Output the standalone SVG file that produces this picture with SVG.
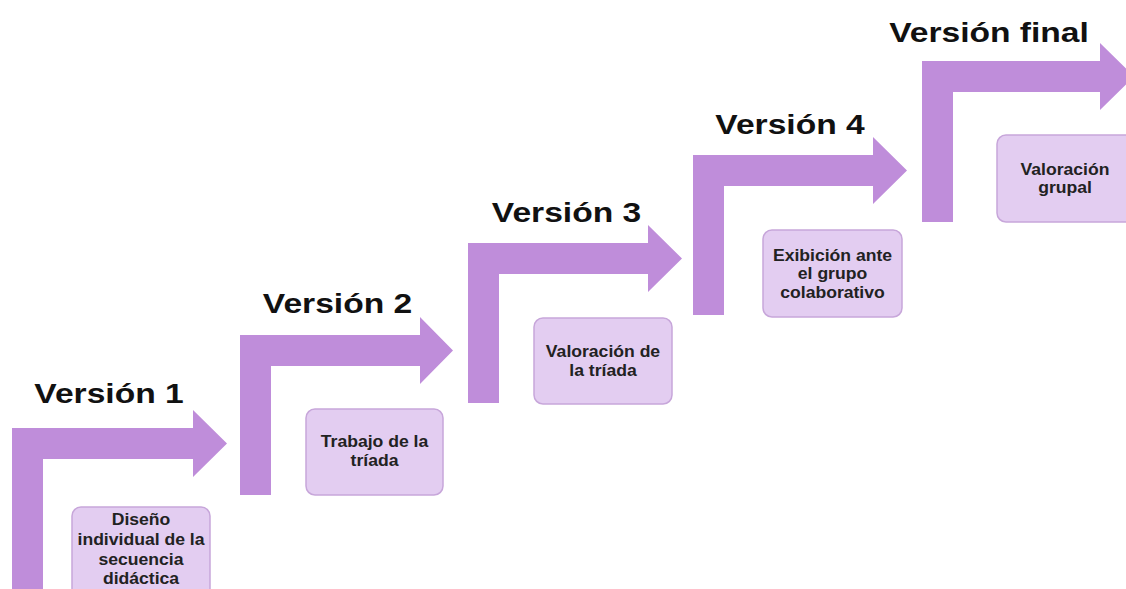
<svg xmlns="http://www.w3.org/2000/svg" width="1126" height="589" viewBox="0 0 1126 589">
<style>
.arrow{fill:#BF8DDA;stroke:none}
.box{fill:#E3CDF1;stroke:#C7A6DA;stroke-width:1.5}
.title{font-family:"Liberation Sans",Arial,sans-serif;font-weight:bold;font-size:28px;fill:#111;text-anchor:middle}
.lbl{font-family:"Liberation Sans",Arial,sans-serif;font-weight:bold;font-size:16px;fill:#222;text-anchor:middle}
</style>
<rect width="1126" height="589" fill="#fff"/>
<g id="connectors">
<polygon class="arrow" points="12,600 12,428 193,428 193,410 227,443.5 193,477 193,459 43,459 43,600"/>
<polygon class="arrow" points="240,495 240,335 420,335 420,317 453,350.5 420,384 420,366 271,366 271,495"/>
<polygon class="arrow" points="468,403 468,243 648,243 648,225 682,258.5 648,292 648,274 499,274 499,403"/>
<polygon class="arrow" points="693,315 693,155 873,155 873,137 907,170.5 873,204 873,186 724,186 724,315"/>
<polygon class="arrow" points="922,222 922,61 1100,61 1100,43 1134,76.5 1100,110 1100,92 953,92 953,222"/>
</g>
<g id="version1"><text class="title" transform="translate(109,403) scale(1.2,1)">Versión 1</text></g>
<g id="version2"><text class="title" transform="translate(337.5,313) scale(1.2,1)">Versión 2</text></g>
<g id="version3"><text class="title" transform="translate(566.5,222) scale(1.2,1)">Versión 3</text></g>
<g id="version4"><text class="title" transform="translate(790,134) scale(1.2,1)">Versión 4</text></g>
<g id="versionfinal"><text class="title" transform="translate(989,42) scale(1.2,1)">Versión final</text></g>
<g id="box1">
<rect class="box" x="72" y="507" width="138" height="92" rx="9"/>
<text class="lbl" transform="translate(141,525) scale(1.1,1)">Diseño</text>
<text class="lbl" transform="translate(141,545) scale(1.1,1)">individual de la</text>
<text class="lbl" transform="translate(141,565) scale(1.1,1)">secuencia</text>
<text class="lbl" transform="translate(141,584) scale(1.1,1)">didáctica</text>
</g>
<g id="box2">
<rect class="box" x="306" y="409" width="137" height="86" rx="9"/>
<text class="lbl" transform="translate(374.5,447) scale(1.1,1)">Trabajo de la</text>
<text class="lbl" transform="translate(374.5,466) scale(1.1,1)">tríada</text>
</g>
<g id="box3">
<rect class="box" x="534" y="318" width="138" height="86" rx="9"/>
<text class="lbl" transform="translate(603,357) scale(1.1,1)">Valoración de</text>
<text class="lbl" transform="translate(603,376) scale(1.1,1)">la tríada</text>
</g>
<g id="box4">
<rect class="box" x="763" y="230" width="139" height="87" rx="9"/>
<text class="lbl" transform="translate(832.5,260.5) scale(1.1,1)">Exibición ante</text>
<text class="lbl" transform="translate(832.5,279) scale(1.1,1)">el grupo</text>
<text class="lbl" transform="translate(832.5,297.5) scale(1.1,1)">colaborativo</text>
</g>
<g id="box5">
<rect class="box" x="997" y="135" width="140" height="87" rx="9"/>
<text class="lbl" transform="translate(1065,175) scale(1.1,1)">Valoración</text>
<text class="lbl" transform="translate(1065,193) scale(1.1,1)">grupal</text>
</g>
</svg>
